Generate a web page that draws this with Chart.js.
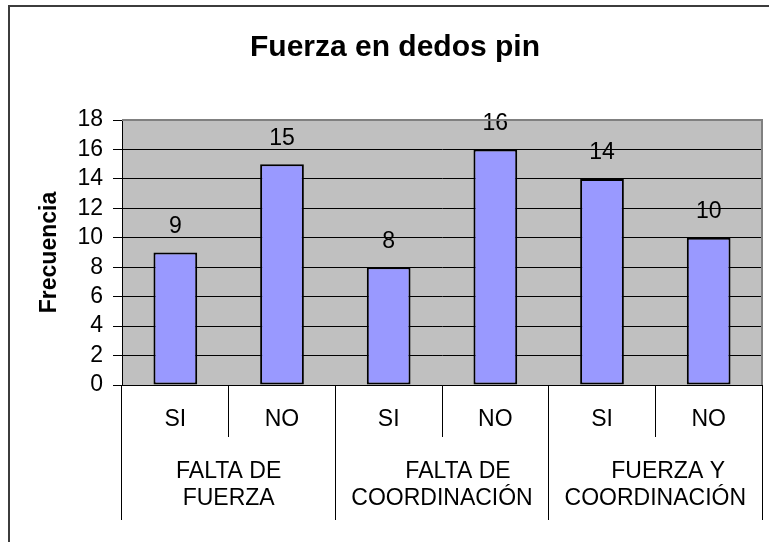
<!DOCTYPE html>
<html>
<head>
<meta charset="utf-8">
<script src="https://cdn.jsdelivr.net/npm/chart.js@4/dist/chart.umd.min.js"></script>
<style>
  html, body { margin: 0; padding: 0; background: #fff; overflow: hidden; }
  #wrap { position: relative; width: 769px; height: 542px; overflow: hidden; }
  canvas { position: absolute; left: 0; top: 0; }
</style>
</head>
<body>
<div id="wrap"><canvas id="chart" width="790" height="542"></canvas></div>
<script>
const FONT = '"Liberation Sans", Arial, sans-serif';

const titleText = 'Fuerza en dedos pin';
const yTitle = 'Frecuencia';
const subLabels = ['SI', 'NO', 'SI', 'NO', 'SI', 'NO'];
const groupLabels = [
  ['FALTA DE', 'FUERZA'],
  ['     FALTA DE', 'COORDINACIÓN'],
  ['    FUERZA Y', 'COORDINACIÓN'],
];
const frecuencia = [9, 15, 8, 16, 14, 10];
const yMin = 0;
const yMax = 18;
const yStep = 2;

// gray plot background + outer frame
const plotBackground = {
  id: 'plotBackground',
  beforeDraw(chart) {
    const { ctx, chartArea: a } = chart;
    ctx.save();
    ctx.fillStyle = '#c0c0c0';
    ctx.fillRect(a.left, a.top, a.right - a.left, a.bottom - a.top);
    ctx.strokeStyle = '#3c3c3c';
    ctx.lineWidth = 2;
    ctx.strokeRect(9, 6, 1000, 1000);
    ctx.restore();
  },
  afterDraw(chart) {
    const { ctx, chartArea: a } = chart;
    ctx.save();
    ctx.strokeStyle = '#808080';
    ctx.lineWidth = 2;
    ctx.beginPath();
    ctx.moveTo(a.left, a.top);
    ctx.lineTo(a.right, a.top);
    ctx.lineTo(a.right, a.bottom);
    ctx.stroke();
    ctx.restore();
  },
};

// value labels above the bars
const barValues = {
  id: 'barValues',
  afterDatasetsDraw(chart) {
    const { ctx } = chart;
    const meta = chart.getDatasetMeta(0);
    ctx.save();
    ctx.font = `23px ${FONT}`;
    ctx.fillStyle = '#000';
    ctx.textAlign = 'center';
    ctx.textBaseline = 'middle';
    meta.data.forEach((bar, i) => {
      ctx.fillText(String(frecuencia[i]), bar.x, bar.y - 26);
    });
    ctx.restore();
  },
};

new Chart(document.getElementById('chart'), {
  type: 'bar',
  data: {
    labels: subLabels,
    datasets: [
      {
        label: yTitle,
        data: frecuencia,
        backgroundColor: '#9999ff',
        borderColor: '#000',
        borderWidth: 2,
        borderSkipped: false,
        barPercentage: 0.41,
        categoryPercentage: 1,
        xAxisID: 'x',
      },
    ],
  },
  options: {
    responsive: false,
    animation: false,
    devicePixelRatio: 1,
    // left/right padding keep the title centred where the full frame would centre it
    layout: { padding: { left: 28, right: 28, top: 0, bottom: 0 } },
    plugins: {
      legend: { display: false },
      tooltip: { enabled: false },
      title: {
        display: true,
        text: titleText,
        color: '#000',
        font: { family: FONT, size: 30, weight: 'bold', lineHeight: 1.2 },
        padding: { top: 30, bottom: 54 },
      },
    },
    scales: {
      y: {
        min: yMin,
        max: yMax,
        afterFit: s => { s.width = 94; },
        ticks: {
          stepSize: yStep,
          autoSkip: false,
          color: '#000',
          padding: 10,
          font: { family: FONT, size: 23 },
        },
        grid: {
          color: c => (c.tick && c.tick.value === yMax ? '#808080' : '#000'),
          tickColor: '#000',
          tickLength: 9,
        },
        border: { display: true, color: '#000', width: 1 },
        title: {
          display: true,
          text: yTitle,
          color: '#000',
          font: { family: FONT, size: 23, weight: 'bold', lineHeight: 1.2 },
          padding: { top: 8, bottom: 0 },
        },
      },
      x: {
        position: 'bottom',
        weight: 0,
        offset: true,
        afterFit: s => { s.height = 50; },
        ticks: {
          color: '#000',
          padding: -31,
          maxRotation: 0,
          font: { family: FONT, size: 23, lineHeight: 1.2 },
        },
        grid: {
          offset: true,
          drawOnChartArea: false,
          color: '#000',
          tickLength: 52,
        },
        border: { display: true, color: '#000', width: 1 },
      },
      x2: {
        type: 'category',
        position: 'bottom',
        weight: 1,
        labels: groupLabels,
        offset: true,
        afterFit: s => { s.height = 107; },
        ticks: {
          color: '#000',
          padding: -62,
          maxRotation: 0,
          autoSkip: false,
          font: { family: FONT, size: 23, lineHeight: 1.17 },
        },
        grid: {
          offset: true,
          drawOnChartArea: false,
          color: '#000',
          tickLength: 85,
        },
        border: { display: false },
      },
    },
  },
  plugins: [plotBackground, barValues],
});
</script>
</body>
</html>
